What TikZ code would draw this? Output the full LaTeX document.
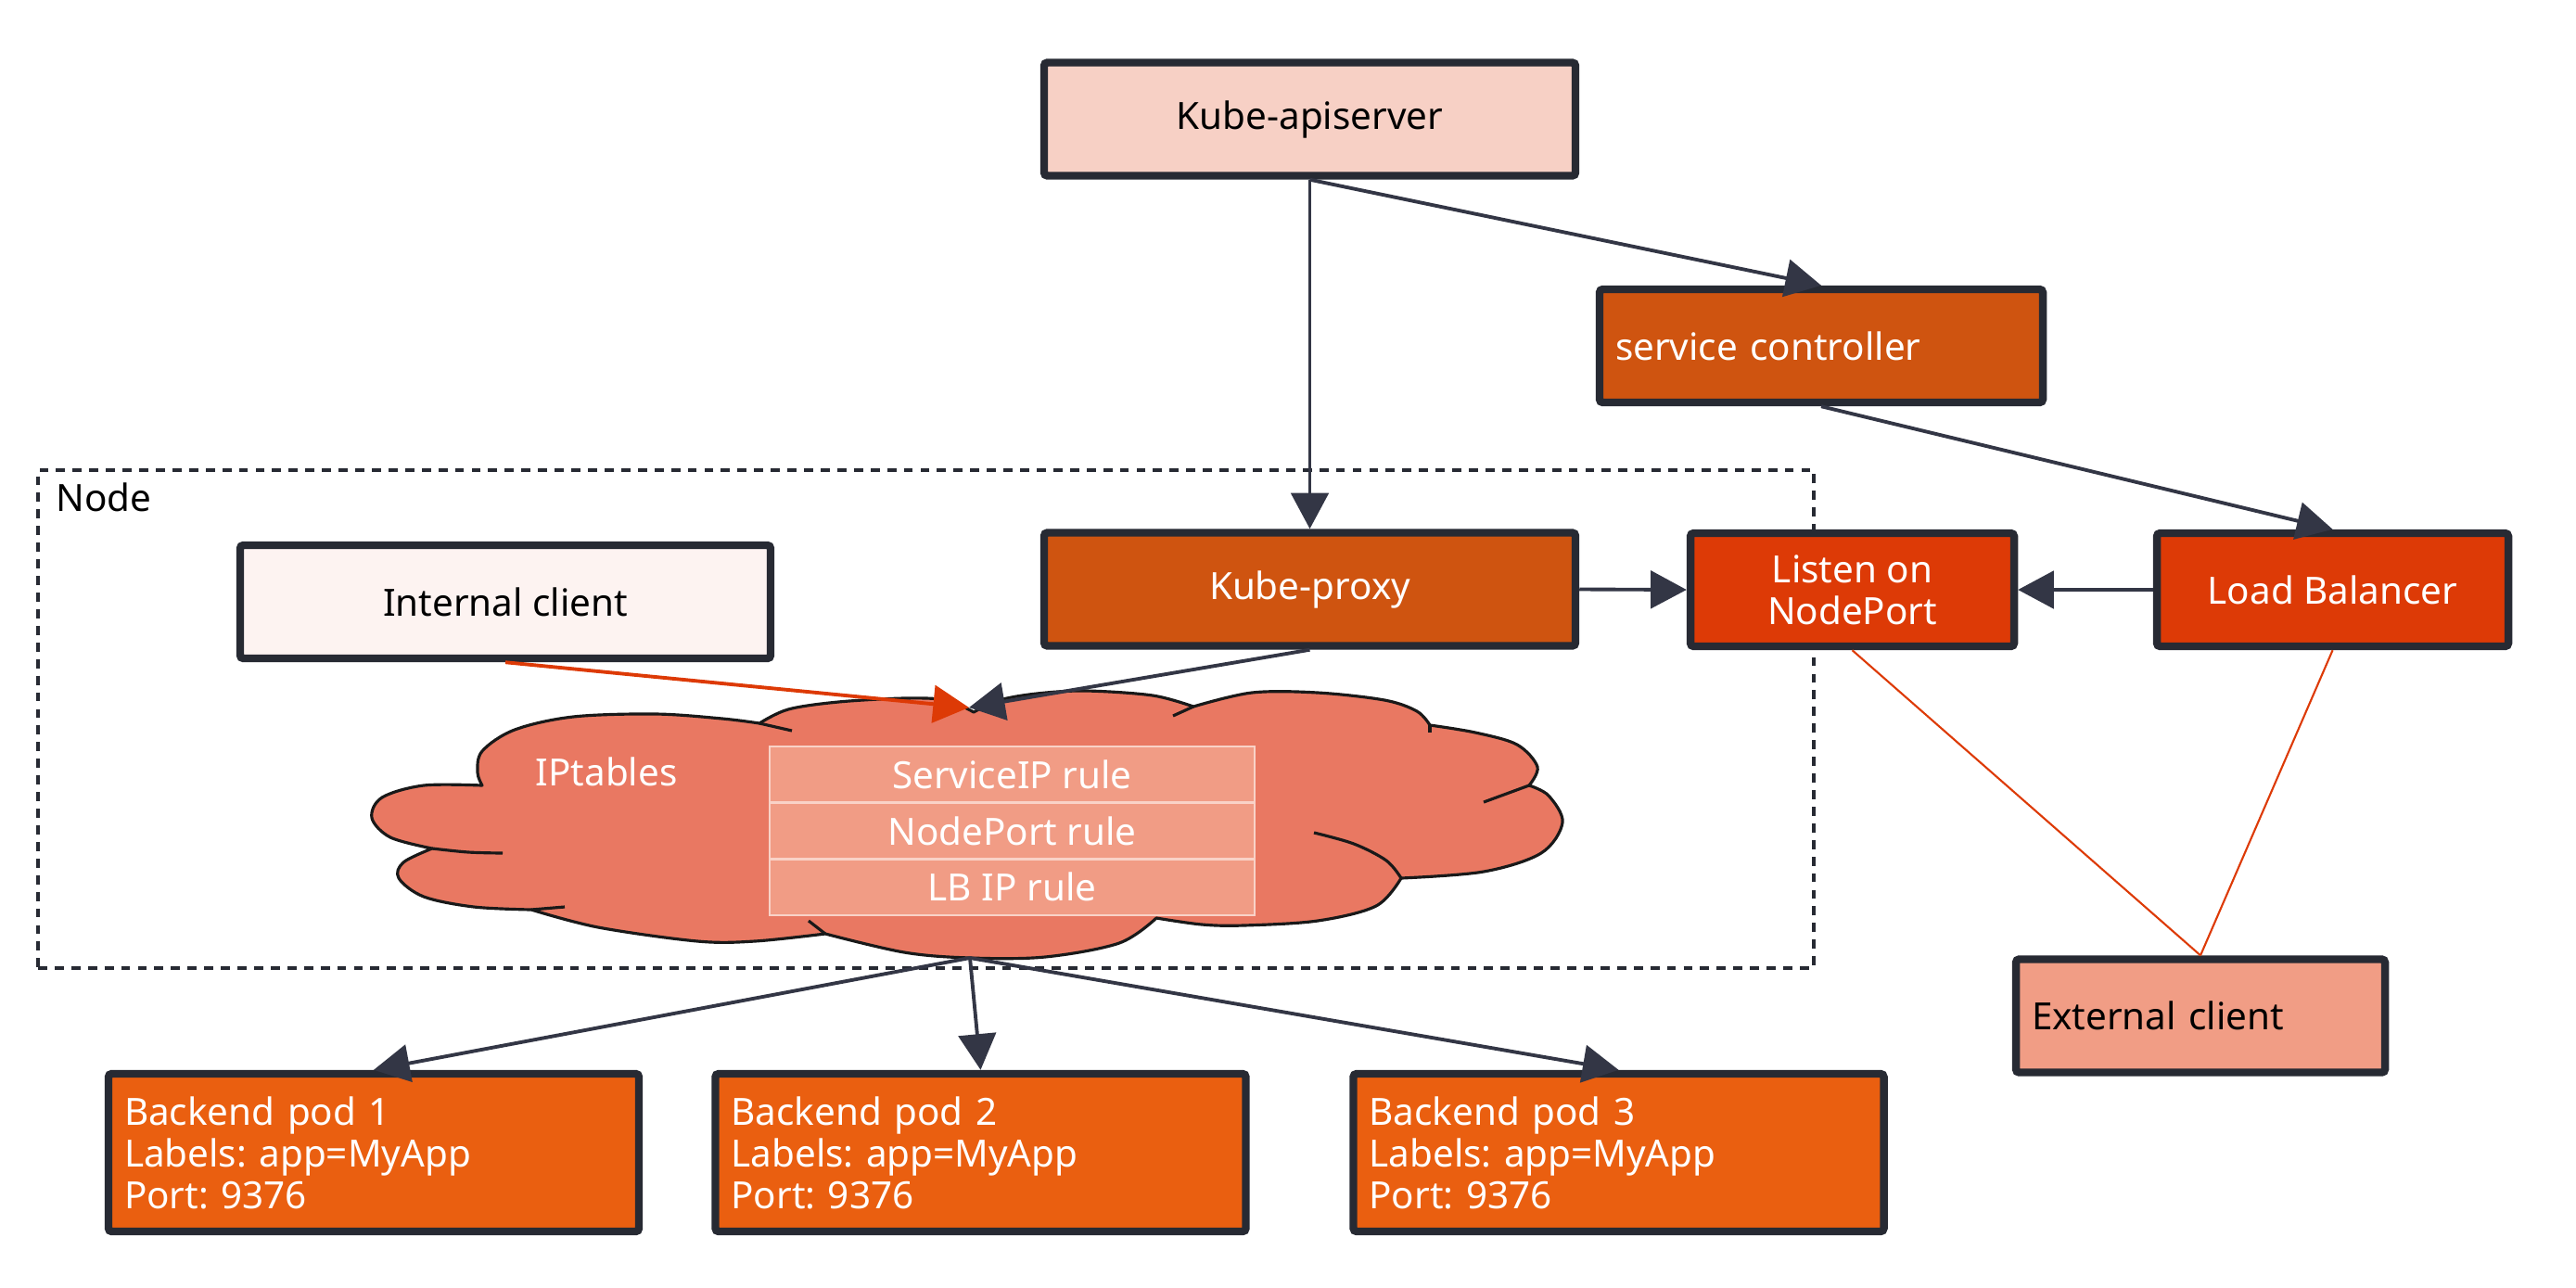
\documentclass[tikz,border=0pt]{standalone}
\usepackage{fontspec}
\setmainfont{Noto Sans}
\frenchspacing
\usetikzlibrary{arrows.meta}
\definecolor{color0}{RGB}{39,42,51}
\definecolor{color1}{RGB}{247,208,197}
\definecolor{color2}{RGB}{207,84,16}
\definecolor{color3}{RGB}{221,58,6}
\definecolor{color4}{RGB}{253,243,241}
\definecolor{color5}{RGB}{241,157,133}
\definecolor{color6}{RGB}{234,95,16}
\definecolor{color7}{RGB}{233,120,98}
\definecolor{color8}{RGB}{241,156,133}
\definecolor{color9}{RGB}{249,210,199}
\definecolor{color10}{RGB}{51,54,69}

\tikzset{
  box/.style     = {rectangle, draw=color0, line width=2.4pt, rounded corners=1pt,
                    minimum height=1.22cm, inner sep=0pt, align=center},
  leftbox/.style = {box, align=left, inner xsep=0.17cm, text width=#1},
  podbox/.style  = {leftbox=5.38cm, fill=color6, text=white,
                    minimum width=5.72cm, minimum height=1.70cm},
  rulebox/.style = {rectangle, draw=color9, line width=0.8pt, fill=color8, text=white,
                    minimum width=5.23cm, minimum height=0.607cm, inner sep=0pt},
  nodeframe/.style = {rectangle, draw=color0, line width=0.9pt,
                    dash pattern=on 2.8pt off 2.3pt, inner sep=0pt},
  cloudline/.style = {draw=black!90, line width=0.9pt, line join=round},
  puff/.style    = {smooth, tension=0.55},
  link/.style    = {draw=color10, line width=1.1pt, -{Triangle[length=11pt,width=11.5pt]}},
  redlink/.style = {draw=color3, line width=1.1pt, -{Triangle[length=11pt,width=11.5pt]}},
  redline/.style = {draw=color3, line width=0.6pt}
}

\begin{document}
\begin{tikzpicture}[font=\fontsize{11.5pt}{12.8pt}\selectfont]
\useasboundingbox (0,0) rectangle (27.78,-13.88);

% node frame
\node[nodeframe, minimum width=19.15cm, minimum height=5.37cm] (nodebox) at (9.985,-7.755) {};
\node[anchor=base west, inner sep=0pt] (nodelabel) at (0.60,-5.51) {Node};

% iptables cloud, one puff after the other
\filldraw[cloudline, fill=color7]
  plot[puff] coordinates {(5.20,-8.47) (4.57,-8.47) (4.12,-8.60) (4.01,-8.82) (4.21,-9.03) (4.66,-9.15)}
  -- plot[puff] coordinates {(4.66,-9.15) (4.35,-9.30) (4.30,-9.47) (4.57,-9.67) (5.11,-9.78) (5.73,-9.81)}
  -- plot[puff] coordinates {(5.73,-9.81) (6.45,-10.00) (7.52,-10.15) (8.14,-10.15) (8.90,-10.07)}
  -- plot[puff] coordinates {(8.90,-10.07) (9.75,-10.27) (10.46,-10.33) (11.27,-10.32) (12.07,-10.17) (12.47,-9.90)}
  -- plot[puff] coordinates {(12.47,-9.90) (12.96,-9.97) (13.41,-9.98) (14.21,-9.93) (14.84,-9.77) (15.11,-9.47)}
  -- plot[puff] coordinates {(15.11,-9.47) (16.00,-9.40) (16.62,-9.20) (16.85,-8.87) (16.70,-8.58) (16.49,-8.47)}
  -- plot[puff] coordinates {(16.49,-8.47) (16.58,-8.27) (16.36,-8.03) (15.91,-7.90) (15.42,-7.82)}
  -- plot[puff] coordinates {(15.42,-7.82) (15.28,-7.67) (14.93,-7.55) (14.21,-7.47) (13.50,-7.47) (12.87,-7.62)}
  -- plot[puff] coordinates {(12.87,-7.62) (12.43,-7.50) (11.71,-7.45) (11.18,-7.48) (10.78,-7.55) (10.50,-7.68)}
  -- plot[puff] coordinates {(10.50,-7.68) (10.20,-7.55) (9.75,-7.53) (9.04,-7.57) (8.50,-7.65) (8.19,-7.80)}
  -- plot[puff] coordinates {(8.19,-7.80) (7.79,-7.75) (7.07,-7.70) (6.18,-7.73) (5.55,-7.87) (5.20,-8.10) (5.15,-8.33) (5.20,-8.47)}
  -- cycle;
\draw[cloudline] plot[puff] coordinates {(4.66,-9.15) (5.05,-9.19) (5.42,-9.20)};
\draw[cloudline] (5.73,-9.81) -- (6.09,-9.78);
\draw[cloudline] (8.72,-9.93) -- (8.90,-10.07);
\draw[cloudline] plot[puff] coordinates {(14.17,-8.98) (14.60,-9.10) (14.95,-9.28) (15.11,-9.47)};
\draw[cloudline] (16.00,-8.65) -- (16.49,-8.47);
\draw[cloudline] (15.42,-7.82) -- (15.42,-7.90);
\draw[cloudline] (12.87,-7.62) -- (12.65,-7.72);
\draw[cloudline] (8.19,-7.80) -- (8.54,-7.88);
\node[anchor=base west, inner sep=0pt, text=white] (iptables) at (5.77,-8.47) {IPtables};
\coordinate (cloudtop) at (10.45,-7.63);
\coordinate (cloudbottom) at (10.46,-10.33);

% rules
\node[rulebox] (rule1) at (10.915,-8.353) {ServiceIP rule};
\node[rulebox] (rule2) at (10.915,-8.960) {NodePort rule};
\node[rulebox] (rule3) at (10.915,-9.567) {LB IP rule};

% control plane
\node[box, fill=color1, minimum width=5.73cm] (apiserver) at (14.125,-1.285) {Kube-apiserver};
\node[leftbox=4.44cm, fill=color2, text=white, minimum width=4.78cm] (svcctrl) at (19.64,-3.73) {service controller};

% node row
\node[box, fill=color4, minimum width=5.72cm] (internal) at (5.45,-6.49) {Internal client};
\node[box, fill=color2, text=white, minimum width=5.73cm] (proxy) at (14.125,-6.355) {Kube-proxy};
\node[box, fill=color3, text=white, minimum width=3.49cm] (listen) at (19.975,-6.36) {Listen on\\NodePort};
\node[box, fill=color3, text=white, minimum width=3.79cm] (lb) at (25.155,-6.36) {Load Balancer};
\node[leftbox=3.64cm, fill=color5, minimum width=3.98cm] (external) at (23.73,-10.955) {External client};

% pods
\node[podbox] (pod1) at (4.03,-12.43) {Backend pod 1\\Labels: app=MyApp\\Port: 9376};
\node[podbox] (pod2) at (10.575,-12.43) {Backend pod 2\\Labels: app=MyApp\\Port: 9376};
\node[podbox] (pod3) at (17.455,-12.43) {Backend pod 3\\Labels: app=MyApp\\Port: 9376};

% connectors
\draw[link] (apiserver.south) -- (proxy.north);
\draw[link] (apiserver.south) -- (svcctrl.north);
\draw[link] (svcctrl.south) -- (lb.north);
\draw[link] (proxy.east) -- (listen.west);
\draw[link] (lb.west) -- (listen.east);
\draw[link] (proxy.south) -- (cloudtop);
\draw[redlink] (internal.south) -- (cloudtop);
\draw[link] (cloudbottom) -- (pod1.north);
\draw[link] (cloudbottom) -- (pod2.north);
\draw[link] (cloudbottom) -- (pod3.north);
\draw[redline] (listen.south) -- (external.north);
\draw[redline] (lb.south) -- (external.north);

\end{tikzpicture}
\end{document}
